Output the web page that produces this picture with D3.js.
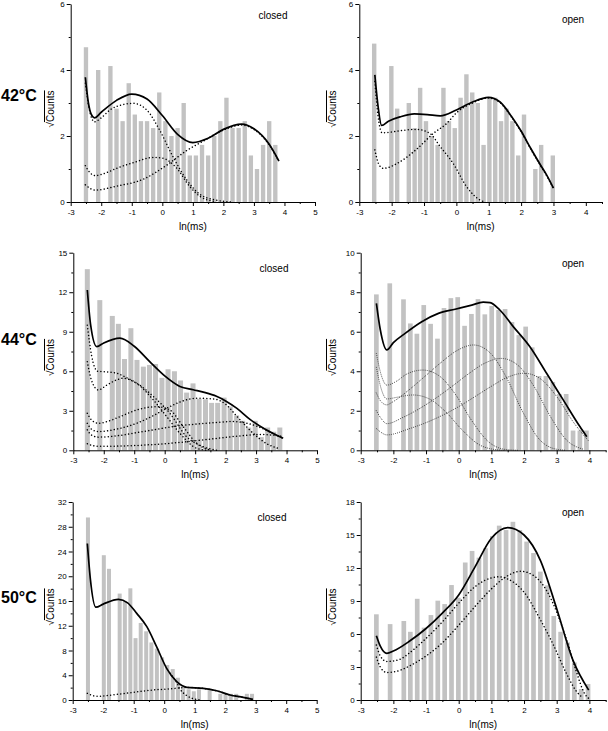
<!DOCTYPE html>
<html>
<head>
<meta charset="utf-8">
<script src="https://cdn.jsdelivr.net/npm/d3@7"></script>
<style>
body { margin: 0; background: #fff; }
svg { display: block; font-family: "Liberation Sans", Arial, sans-serif; }
.tick text { font-size: 8px; fill: #000; }
</style>
</head>
<body>
<div id="chart"></div>
<script>
// ---- 42°C closed ----
const bins42c = [-2.5,-2.3,-2.1,-1.9,-1.7,-1.5,-1.3,-1.1,-0.9,-0.7,-0.5,-0.3,-0.1,0.1,0.3,0.5,0.7,0.9,1.1,1.3,1.5,1.7,1.9,2.1,2.3,2.5,2.7,2.9,3.1,3.3,3.5,3.7];
const hist42c = [4.69,0,4.0,0,4.12,2.83,2.45,3.6,2.65,2.45,2.45,2.24,3.32,2.45,2.0,2.24,3.0,1.41,1.41,1.73,1.41,2.0,2.45,3.16,2.24,2.24,2.45,1.41,1.0,1.73,2.45,1.73];
const fit42c = [[-2.52,3.78],[-2.42,3.0],[-2.33,2.66],[-2.22,2.55],[-2.0,2.72],[-1.5,3.08],[-1.0,3.27],[-0.5,3.12],[0,2.62],[0.5,2.05],[1.0,1.8],[1.5,1.93],[2.0,2.2],[2.6,2.36],[3.0,2.22],[3.5,1.75],[3.82,1.24]];
const comp42cA = [[-2.52,3.6],[-2.4,2.85],[-2.22,2.43],[-2.0,2.55],[-1.7,2.8],[-1.3,2.95],[-0.95,2.99],[-0.5,2.78],[-0.1,2.2],[0.35,1.37],[0.8,0.67],[1.25,0.22],[1.8,0.05],[2.3,0]];
const comp42cB = [[-2.52,1.1],[-2.38,0.9],[-2.2,0.8],[-1.8,0.9],[-1.5,1.02],[-0.95,1.19],[-0.3,1.35],[0,1.33],[0.45,1.05],[0.9,0.47],[1.25,0.16],[1.7,0.02]];
const comp42cC = [[-2.52,0.52],[-2.2,0.36],[-1.5,0.48],[-0.6,0.7],[0.15,1.12],[0.8,1.56],[1.35,1.85],[2.0,2.18],[2.6,2.33],[3.0,2.2],[3.5,1.73],[3.82,1.22]];

// ---- 42°C open ----
const bins42o = [-2.54,-2.36,-2.18,-2.01,-1.83,-1.65,-1.47,-1.29,-1.12,-0.94,-0.76,-0.58,-0.4,-0.23,-0.05,0.13,0.31,0.49,0.66,0.84,1.02,1.2,1.38,1.55,1.73,1.91,2.09,2.27,2.44,2.62,2.8,2.98];
const hist42o = [4.8,0,0,4.12,2.83,0,3.0,2.24,3.46,2.45,2.0,1.73,3.46,2.45,2.24,3.16,3.87,3.32,3.0,1.73,3.16,3.16,2.45,2.83,2.45,1.41,2.65,0,1.0,1.73,0,1.41];
const fit42o = [[-2.52,3.85],[-2.42,2.9],[-2.31,2.32],[-2.1,2.45],[-1.74,2.58],[-1.3,2.67],[-0.9,2.65],[-0.5,2.61],[0,2.79],[0.5,3.03],[0.99,3.17],[1.35,3.03],[1.7,2.6],[2.0,2.15],[2.3,1.62],[2.6,1.12],[2.8,0.8],[3.0,0.42]];
const comp42oA = [[-2.52,3.65],[-2.42,2.6],[-2.3,2.1],[-2.0,2.12],[-1.74,2.16],[-1.23,2.2],[-0.82,2.08],[-0.5,1.68],[-0.1,1.17],[0.32,0.46],[0.73,0.06],[0.9,0]];
const comp42oB = [[-2.52,1.58],[-2.4,1.15],[-2.26,1.02],[-1.74,1.22],[-1.23,1.6],[-0.71,2.08],[-0.3,2.38],[0,2.7],[0.5,3.0],[0.99,3.15],[1.35,3.01],[1.7,2.58],[2.0,2.13],[2.3,1.6],[2.6,1.1],[2.8,0.78],[3.0,0.41]];

// ---- 44°C closed ----
const bins44c = [-2.54,-2.34,-2.13,-1.93,-1.72,-1.52,-1.32,-1.11,-0.91,-0.7,-0.5,-0.3,-0.09,0.11,0.32,0.52,0.72,0.93,1.13,1.34,1.54,1.74,1.95,2.15,2.36,2.56,2.76,2.97,3.17,3.38,3.58,3.78];
const hist44c = [13.75,0,11.4,0,10.2,9.6,6.93,9.27,6.86,6.35,6.48,6.55,5.5,6.15,6.0,5.3,4.38,5.08,3.9,3.87,3.6,3.6,4.0,3.32,2.65,2.24,1.73,2.24,1.0,1.73,1.41,1.73];
const fit44c = [[-2.54,12.17],[-2.43,9.5],[-2.23,7.87],[-2.0,8.15],[-1.47,8.52],[-1.0,7.9],[-0.5,6.75],[0,5.65],[0.5,4.85],[0.94,4.6],[1.3,4.4],[1.7,4.1],[2.0,3.75],[2.36,3.2],[2.8,2.35],[3.3,1.6],[3.89,0.91]];
const comp44cA = [[-2.54,9.5],[-2.4,7.2],[-2.2,6.0],[-1.9,5.95],[-1.58,5.85],[-1.2,5.45],[-0.92,5.09],[-0.37,3.82],[0.07,2.55],[0.5,1.29],[1.05,0.15],[1.4,0]];
const comp44cB = [[-2.54,6.73],[-2.4,5.3],[-2.18,4.58],[-1.9,4.95],[-1.58,5.34],[-1.36,5.47],[-0.92,5.09],[-0.37,4.08],[0.17,2.81],[0.72,1.03],[1.27,0.27],[1.7,0]];
const comp44cC = [[-2.54,2.81],[-2.4,2.3],[-2.18,2.05],[-1.8,2.25],[-1.47,2.55],[-0.92,3.06],[-0.26,3.31],[0.17,3.06],[0.61,1.79],[1.05,0.53],[1.49,0.02]];
const comp44cD = [[-2.54,2.05],[-2.4,1.6],[-2.18,1.42],[-1.5,1.65],[-0.92,2.05],[-0.4,2.6],[0.17,3.31],[0.6,3.75],[1.05,3.95],[1.6,3.9],[2.0,3.5],[2.4,2.5],[2.9,1.3],[3.35,0.5],[3.8,0.1]];
const comp44cE = [[-2.54,1.55],[-2.4,1.15],[-2.18,1.0],[-1.5,1.12],[-0.9,1.35],[-0.3,1.58],[0.2,1.78],[0.7,1.92],[1.2,2.02],[1.7,2.12],[2.2,2.18],[2.6,2.1],[3.0,1.85],[3.4,1.45],[3.89,0.9]];
const comp44cF = [[-2.54,0.5],[-2.35,0.35],[-2.18,0.3],[-1.5,0.32],[-0.5,0.42],[0.5,0.6],[1.5,0.85],[2.5,1.1],[3.2,1.2],[3.89,1.05]];

// ---- 44°C open ----
const bins44o = [-2.52,-2.31,-2.11,-1.9,-1.69,-1.48,-1.28,-1.07,-0.86,-0.65,-0.45,-0.24,-0.03,0.18,0.39,0.59,0.8,1.01,1.22,1.42,1.63,1.84,2.05,2.25,2.46,2.67,2.88,3.08,3.29,3.5,3.71,3.91];
const hist44o = [7.89,0,8.45,0,7.64,6.42,5.9,7.35,6.4,5.65,7.2,7.7,7.75,6.3,6.9,7.65,6.88,7.3,7.1,7.15,6.49,5.83,6.26,5.21,3.76,3.76,3.46,2.85,2.85,1.0,1.0,1.0];
const fit44o = [[-2.52,7.44],[-2.4,6.1],[-2.2,5.08],[-2.0,5.45],[-1.64,5.92],[-1.13,6.51],[-0.62,6.93],[-0.11,7.14],[0.4,7.35],[0.75,7.5],[0.96,7.47],[1.26,7.1],[1.67,6.26],[2.18,5.24],[2.69,3.9],[3.2,2.55],[3.71,1.2],[3.92,0.69]];
const comp44oA = [[-2.52,4.9],[-2.37,3.8],[-2.2,3.3],[-1.9,3.5],[-1.6,3.85],[-1.1,4.06],[-0.6,3.77],[-0.1,2.83],[0.4,1.5],[0.9,0.45],[1.4,0.05],[1.8,0]];
const comp44oB = [[-2.52,4.2],[-2.37,3.1],[-2.2,2.6],[-1.9,2.68],[-1.4,2.8],[-0.9,2.6],[-0.4,1.95],[0.1,1.04],[0.6,0.31],[1.1,0.04],[1.4,0]];
const comp44oC = [[-2.52,2.9],[-2.37,2.45],[-2.2,2.3],[-2.05,2.42],[-1.55,3.02],[-1.05,3.72],[-0.55,4.43],[-0.05,5.05],[0.45,5.33],[0.95,4.95],[1.45,3.72],[1.95,1.98],[2.45,0.59],[2.95,0.07],[3.3,0]];
const comp44oD = [[-2.52,2.0],[-2.37,1.6],[-2.2,1.35],[-1.7,1.67],[-1.2,2.11],[-0.7,2.64],[-0.2,3.24],[0.3,3.87],[0.8,4.41],[1.3,4.65],[1.8,4.32],[2.3,3.25],[2.8,1.73],[3.3,0.52],[3.8,0.06]];
const comp44oE = [[-2.52,1.1],[-2.37,0.9],[-2.2,0.78],[-1.5,1.1],[-1.0,1.4],[-0.5,1.77],[0,2.21],[0.5,2.72],[1.0,3.24],[1.5,3.7],[2.0,3.9],[2.5,3.62],[3.0,2.72],[3.5,1.45],[4.0,0.43]];

// ---- 50°C closed ----
const bins50c = [-2.5,-2.33,-2.15,-1.98,-1.81,-1.63,-1.46,-1.29,-1.11,-0.94,-0.77,-0.59,-0.42,-0.24,-0.07,0.1,0.28,0.45,0.62,0.8,0.97,1.14,1.32,1.49,1.66,1.84,2.01,2.18,2.36,2.53,2.71,2.88];
const hist50c = [29.5,0,0,23.4,21.2,0,17.2,16.0,18.05,10.0,12.45,11.1,9.3,8.3,6.9,5.66,5.0,3.6,2.24,1.73,1.41,1.73,0,1.73,0,1.0,1.0,1.0,1.0,0,1.0,1.0];
const fit50c = [[-2.52,25.3],[-2.42,19.5],[-2.24,15.0],[-2.0,15.5],[-1.5,16.27],[-1.2,15.7],[-0.9,14.0],[-0.57,11.85],[-0.25,8.62],[0.08,5.12],[0.41,2.96],[0.74,2.05],[1.28,1.89],[1.72,1.5],[2.16,0.81],[2.59,0.43],[2.9,0.11]];
const comp50cA = [[-2.52,1.08],[-2.21,0.6],[-1.45,0.97],[-0.36,1.62],[0.3,1.85],[0.6,2.0],[0.74,2.03],[1.28,1.87],[1.72,1.48],[2.16,0.8],[2.59,0.42],[2.9,0.1]];
const comp50cB = [[0.2,4.3],[0.41,2.8],[0.52,1.75],[0.7,0.85],[0.9,0.3],[1.07,0.08],[1.2,0]];

// ---- 50°C open ----
const bins50o = [-2.52,-2.31,-2.1,-1.89,-1.68,-1.48,-1.27,-1.06,-0.85,-0.64,-0.43,-0.22,-0.01,0.2,0.41,0.62,0.82,1.03,1.24,1.45,1.66,1.87,2.08,2.29,2.5,2.71,2.91,3.12,3.33,3.54,3.75,3.96];
const hist50o = [7.79,0,6.9,0,7.18,6.2,9.2,6.58,7.72,9.03,8.72,10.45,9.3,12.5,13.55,12.94,13.8,14.9,15.85,15.45,16.2,15.45,14.4,13.36,11.67,10.42,7.64,6.2,5.24,3.42,1.0,1.45];
const fit50o = [[-2.52,5.85],[-2.4,4.9],[-2.2,4.24],[-2.0,4.45],[-1.5,5.36],[-1.0,6.5],[-0.5,7.9],[0,9.55],[0.5,12.1],[1.0,14.7],[1.5,15.67],[2.0,15.0],[2.5,12.7],[3.0,8.3],[3.5,3.6],[3.98,0.9]];
const comp50oA = [[-2.52,5.0],[-2.4,4.0],[-2.2,3.5],[-1.8,3.7],[-1.5,4.3],[-1.0,5.6],[-0.5,7.1],[0,8.8],[0.5,10.3],[1.0,11.1],[1.25,11.2],[1.5,11.0],[2.0,9.8],[2.5,7.3],[2.9,5.0],[3.3,2.4],[3.6,0.8],[3.8,0.2]];
const comp50oB = [[-2.52,3.9],[-2.4,3.0],[-2.2,2.5],[-1.8,2.7],[-1.5,3.1],[-1.0,4.0],[-0.5,5.2],[0,6.8],[0.5,8.5],[1.0,10.1],[1.5,11.3],[1.9,11.7],[2.3,11.3],[2.7,9.9],[3.0,8.0],[3.3,5.5],[3.6,2.6],[3.85,0.6],[4.0,0.1]];

// panel layout (pixels)
const panels = [
  {bins: bins42c, hist: hist42c, fit: fit42c, comps: [comp42cA, comp42cB, comp42cC], xMax: 5, yMax: 6, yMajor: 2,
   left: 70.7, right: 315, top: 4, bottom: 202, barW: 0.142, tag: "closed", tagX: 273, tagY: 19,
   temp: "42°C", tempY: 101, ylabX: 54, dot: "a"},
  {bins: bins42o, hist: hist42o, fit: fit42o, comps: [comp42oA, comp42oB], xMax: 4.5, yMax: 6, yMajor: 2,
   left: 359.3, right: 602, top: 4, bottom: 202, barW: 0.136, tag: "open", tagX: 573, tagY: 23,
   ylabX: 336, dot: "a"},
  {bins: bins44c, hist: hist44c, fit: fit44c, comps: [comp44cA, comp44cB, comp44cC, comp44cD, comp44cE, comp44cF], xMax: 5, yMax: 15, yMajor: 3,
   left: 73.3, right: 317, top: 252.7, bottom: 450.3, barW: 0.164, tag: "closed", tagX: 274, tagY: 272,
   temp: "44°C", tempY: 345, ylabX: 54, dot: "a"},
  {bins: bins44o, hist: hist44o, fit: fit44o, comps: [comp44oA, comp44oB, comp44oC, comp44oD, comp44oE], xMax: 4.5, yMax: 10, yMajor: 2,
   left: 360.7, right: 605.7, top: 252.7, bottom: 450.3, barW: 0.143, tag: "open", tagX: 573, tagY: 267,
   ylabX: 336, dot: "b"},
  {bins: bins50c, hist: hist50c, fit: fit50c, comps: [comp50cA, comp50cB], xMax: 5, yMax: 32, yMajor: 4,
   left: 72.7, right: 316.7, top: 502, bottom: 700, barW: 0.131, tag: "closed", tagX: 272, tagY: 521,
   temp: "50°C", tempY: 603, ylabX: 54, dot: "a"},
  {bins: bins50o, hist: hist50o, fit: fit50o, comps: [comp50oA, comp50oB], xMax: 4.5, yMax: 18, yMajor: 3,
   left: 360.7, right: 605.7, top: 502, bottom: 700, barW: 0.143, tag: "open", tagX: 573, tagY: 516,
   ylabX: 336, dot: "a"}
];

const svg = d3.select("#chart")
    .append("svg")
    .attr("width", 608)
    .attr("height", 731);

panels.forEach(p => {
    const x = d3.scaleLinear().domain([-3, p.xMax]).range([p.left, p.right]);
    const y = d3.scaleLinear().domain([0, p.yMax]).range([p.bottom, p.top]);
    const g = svg.append("g");

    // histogram bars
    const bars = p.bins.map((b, i) => ({b: b, v: p.hist[i]})).filter(d => d.v > 0);
    g.selectAll("rect")
        .data(bars)
        .join("rect")
        .attr("x", d => x(d.b - p.barW / 2))
        .attr("width", x(p.barW) - x(0))
        .attr("y", d => y(d.v))
        .attr("height", d => y(0) - y(d.v))
        .attr("fill", "#c2c2c2");

    const line = d3.line()
        .x(d => x(d[0]))
        .y(d => y(d[1]))
        .curve(d3.curveMonotoneX);

    // component curves (dotted)
    p.comps.forEach(c => {
        g.append("path")
            .attr("d", line(c))
            .attr("fill", "none")
            .attr("stroke", p.dot == "b" ? "#222" : "#000")
            .attr("stroke-width", p.dot == "b" ? 1 : 1.5)
            .attr("stroke-linecap", "round")
            .attr("stroke-dasharray", p.dot == "b" ? "0.01,2.1" : "0.01,3.4");
    });

    // overall fit
    g.append("path")
        .attr("d", line(p.fit))
        .attr("fill", "none")
        .attr("stroke", "#000")
        .attr("stroke-width", 1.7);

    // x axis
    const xMajor = d3.range(-3, p.xMax + 0.01, 1);
    const xMinor = d3.range(-2.5, p.xMax + 0.01, 1);
    g.append("g")
        .attr("transform", `translate(0,${p.bottom})`)
        .call(d3.axisBottom(x).tickValues(xMinor).tickSize(2).tickSizeOuter(0).tickFormat(""))
        .call(a => a.select(".domain").remove());
    g.append("g")
        .attr("transform", `translate(0,${p.bottom})`)
        .call(d3.axisBottom(x).tickValues(xMajor).tickSize(4).tickSizeOuter(0).tickPadding(3).tickFormat(d => String(d)));

    // y axis
    const yMajor = d3.range(0, p.yMax + 0.01, p.yMajor);
    const yMinor = d3.range(p.yMajor / 2, p.yMax, p.yMajor);
    g.append("g")
        .attr("transform", `translate(${p.left},0)`)
        .call(d3.axisLeft(y).tickValues(yMinor).tickSize(2).tickSizeOuter(0).tickFormat(""))
        .call(a => a.select(".domain").remove());
    g.append("g")
        .attr("transform", `translate(${p.left},0)`)
        .call(d3.axisLeft(y).tickValues(yMajor).tickSize(4).tickSizeOuter(0).tickPadding(2).tickFormat(d => String(d)));

    g.selectAll(".domain, .tick line").attr("stroke", "#000");

    // axis titles
    g.append("text")
        .attr("x", (p.left + p.right) / 2)
        .attr("y", p.bottom + 28)
        .attr("text-anchor", "middle")
        .style("font-size", "10px")
        .text("ln(ms)");

    const ylab = g.append("text")
        .attr("transform", `translate(${p.ylabX},${(p.top + p.bottom) / 2 + 6}) rotate(-90)`)
        .attr("text-anchor", "middle")
        .style("font-size", "10px");
    ylab.append("tspan").text("√");
    ylab.append("tspan").style("text-decoration", "overline").text("Counts");

    g.append("text")
        .attr("x", p.tagX)
        .attr("y", p.tagY)
        .attr("text-anchor", "middle")
        .style("font-size", "10px")
        .text(p.tag);

    if (p.temp) {
        g.append("text")
            .attr("x", 1)
            .attr("y", p.tempY)
            .style("font-size", "16px")
            .style("font-weight", "bold")
            .text(p.temp);
    }
});
</script>
</body>
</html>
